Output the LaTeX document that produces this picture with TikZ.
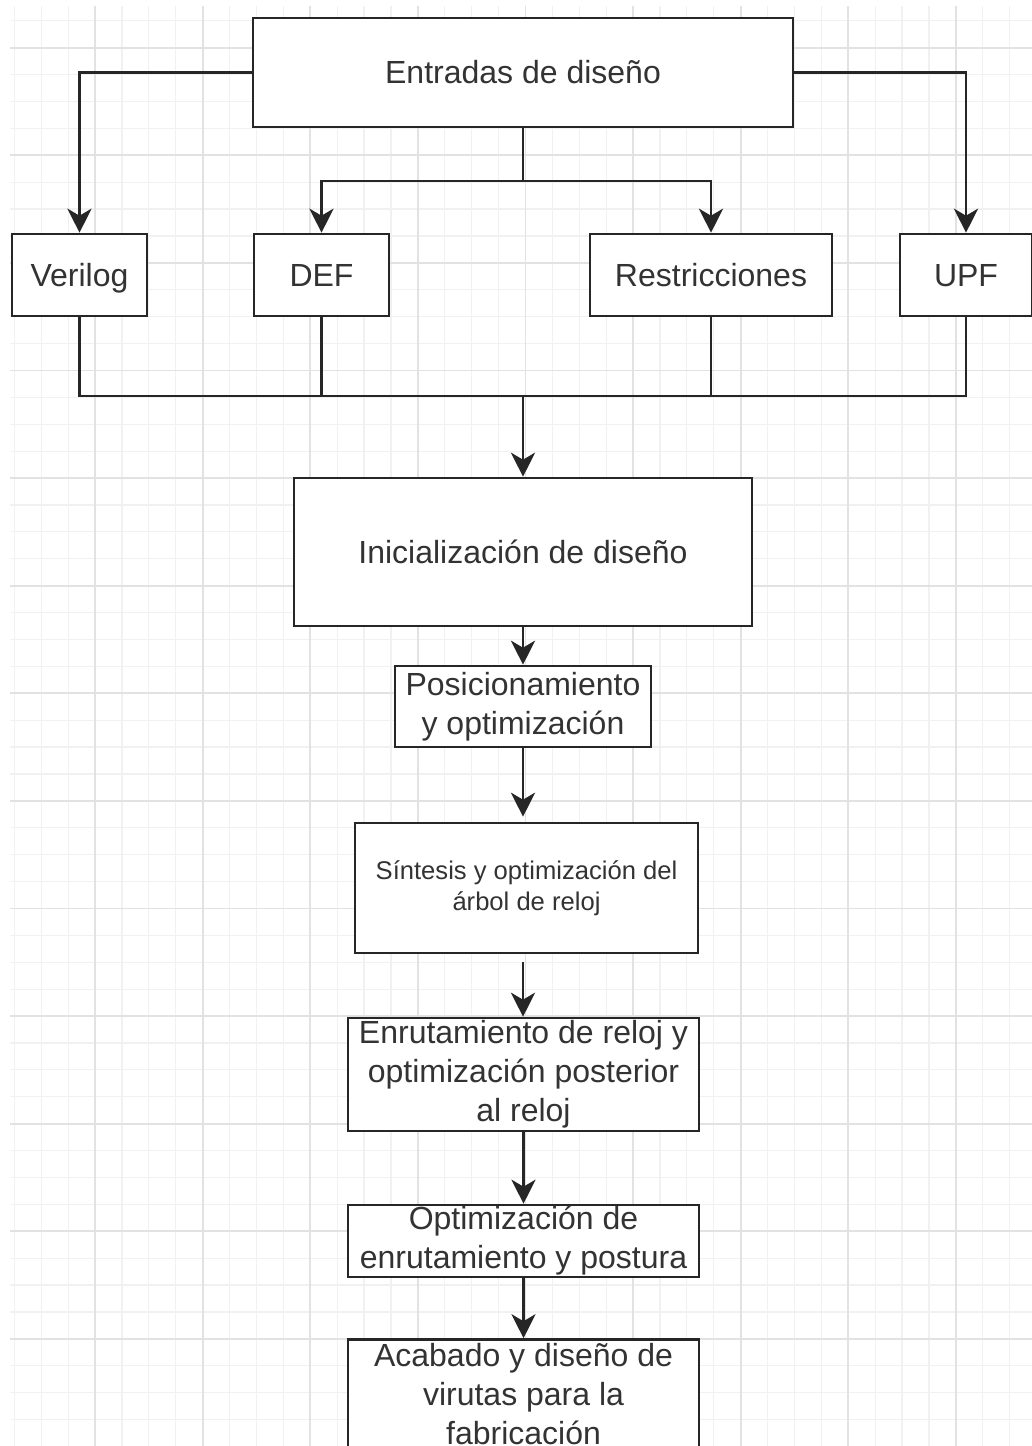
\documentclass[tikz,border=0pt]{standalone}
\usepackage{fontspec}
\setmainfont{Liberation Sans}
\usetikzlibrary{arrows.meta}

\definecolor{linec}{HTML}{262626}
\definecolor{textc}{HTML}{333333}
\definecolor{gridminor}{HTML}{F1F1F1}
\definecolor{gridmajor}{HTML}{E2E2E2}

\tikzset{
  minorgrid/.style={draw=gridminor, line width=0.6pt},
  majorgrid/.style={draw=gridmajor, line width=0.9pt},
  box/.style={draw=linec, line width=1.3pt, fill=white, text=textc,
    font=\fontsize{16pt}{19.5pt}\selectfont, align=center, inner sep=0pt},
  oneline/.style={box, text height=13pt, text depth=1.8pt},
  smallbox/.style={box, font=\fontsize{12.8pt}{15.5pt}\selectfont},
  conn/.style={draw=linec, line width=1.45pt},
  arr/.style={conn, -{Stealth[length=12pt,width=12pt,inset=3.5pt]}}
}

\begin{document}
\begin{tikzpicture}[x=0.5pt,y=-0.5pt]
  % page and background
  \useasboundingbox (0,0) rectangle (1032,1446);
  \fill[white] (0,0) rectangle (1032,1446);

  % background grid
  \foreach \i in {-3,...,34}
    \draw[minorgrid] ({95+26.9*\i},6) -- ({95+26.9*\i},1446);
  \foreach \j in {-1,...,51}
    \draw[minorgrid] (10,{47.6+26.9*\j}) -- (1032,{47.6+26.9*\j});
  \foreach \i in {0,...,8}
    \draw[majorgrid] ({95+107.6*\i},6) -- ({95+107.6*\i},1446);
  \foreach \j in {0,...,12}
    \draw[majorgrid] (10,{47.6+107.6*\j}) -- (1032,{47.6+107.6*\j});

  % inputs
  \node[oneline, minimum width=270pt, minimum height=54.5pt] (E) at (523,72.5) {Entradas de diseño};
  \node[oneline, minimum width=67.5pt, minimum height=41pt] (V) at (79.5,275) {Verilog};
  \node[oneline, minimum width=67.5pt, minimum height=41pt] (D) at (321.5,275) {DEF};
  \node[oneline, minimum width=121pt, minimum height=41pt] (R) at (711,275) {Restricciones};
  \node[oneline, minimum width=66pt, minimum height=41pt] (U) at (966,275) {UPF};

  % flow steps
  \node[oneline, minimum width=229pt, minimum height=74pt] (I) at (523,552) {Inicialización de diseño};
  \node[box, minimum width=128pt, minimum height=40.5pt] (P) at (523,706.5) {Posicionamiento\\y optimización};
  \node[smallbox, minimum width=171.5pt, minimum height=65pt] (S) at (526.5,888) {Síntesis y optimización del\\árbol de reloj};
  \node[box, minimum width=175.5pt, minimum height=56.5pt] (En) at (523.5,1074.5) {Enrutamiento de reloj y\\optimización posterior\\al reloj};
  \node[box, minimum width=175.5pt, minimum height=36pt] (O) at (523.5,1241) {Optimización de\\enrutamiento y postura};
  \node[box, minimum width=175.5pt, minimum height=55pt] (A) at (523.5,1394.5) {Acabado y diseño de\\virutas para la\\fabricación};

  % distribution of the inputs
  \coordinate (split) at (523,181);
  \coordinate (bus) at (523,396);
  \draw[arr] (E.west) -| (V.north);
  \draw[arr] (E.east) -| (U.north);
  \draw[conn] (E.south) -- (split);
  \draw[arr] (split) -| (D.north);
  \draw[arr] (split) -| (R.north);

  % collection into the initialization
  \draw[conn] (V.south) |- (bus) -| (U.south);
  \draw[conn] (D.south) -- (D.south |- bus);
  \draw[conn] (R.south) -- (R.south |- bus);
  \draw[arr] (bus) -- (I.north);

  % sequential steps
  \draw[arr] (I.south) -- (P.north);
  \draw[arr, shorten >=2.5pt] (P.south) -- (P.south |- S.north);
  \draw[arr, shorten <=4pt] (P.south |- S.south) -- (P.south |- En.north);
  \draw[arr] (En.south) -- (O.north);
  \draw[arr] (O.south) -- (A.north);
\end{tikzpicture}
\end{document}
